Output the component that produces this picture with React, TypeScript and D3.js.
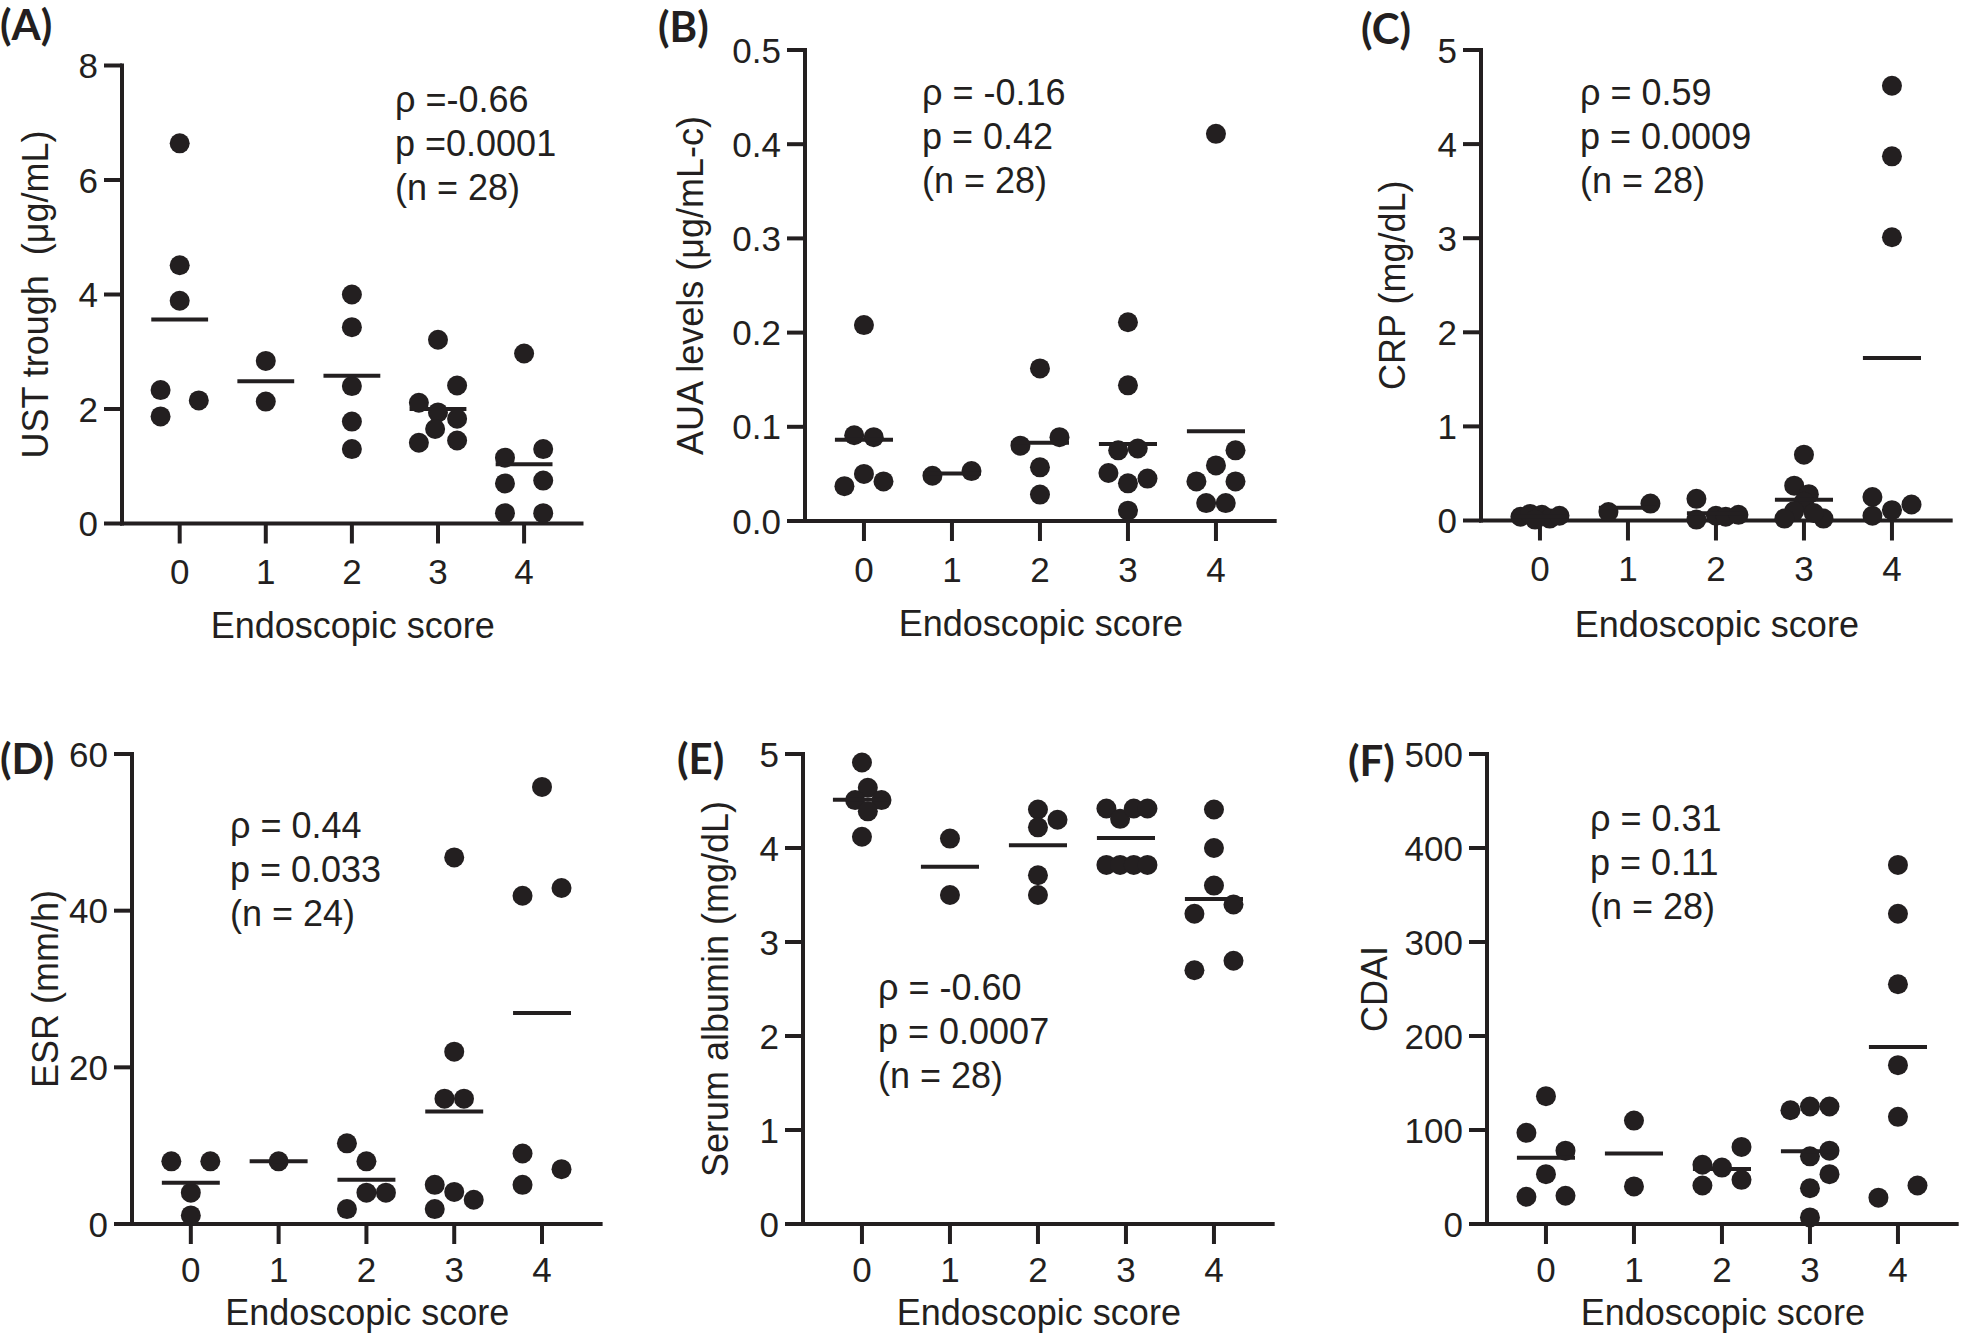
import React from "react";
import * as d3 from "d3";

// ---------- DATA ----------
const categories = [0, 1, 2, 3, 4];

const ustValues = [
  [6.64, 4.51, 3.89, 2.33, 1.87, 2.15],
  [2.84, 2.13],
  [4.0, 3.43, 2.4, 1.78, 1.3],
  [3.21, 2.11, 2.41, 1.94, 1.83, 1.65, 1.41, 1.45],
  [2.97, 1.15, 1.3, 0.7, 0.75, 0.18, 0.18],
];
const ustSpread = [
  [0, 0, 0, -2, -2, 2],
  [0, 0],
  [0, 0, 0, 0, 0],
  [0, -2, 2, 0, 2, -0.3, -2, 2],
  [0, -2, 2, -2, 2, -2, 2],
];

const auaValues = [
  [0.208, 0.091, 0.089, 0.05, 0.037, 0.042],
  [0.048, 0.053],
  [0.162, 0.08, 0.089, 0.057, 0.028],
  [0.211, 0.144, 0.075, 0.077, 0.051, 0.045, 0.04, 0.011],
  [0.411, 0.075, 0.059, 0.042, 0.042, 0.019, 0.019],
];
const auaSpread = [
  [0, -1, 1, 0, -2, 2],
  [-2, 2],
  [0, -2, 2, 0, 0],
  [0, 0, -1, 1, -2, 2, 0, 0],
  [0, 2, 0, -2, 2, -1, 1],
];

const crpValues = [
  [0.04, 0.07, 0.06, 0.02, 0.05, 0.01],
  [0.09, 0.18],
  [0.23, 0.01, 0.05, 0.04, 0.06],
  [0.7, 0.37, 0.28, 0.2, 0.1, 0.02, 0.02, 0.08],
  [4.62, 3.87, 3.01, 0.25, 0.05, 0.11, 0.17],
];
const crpSpread = [
  [-2, -1, 0.2, 1, 2, -0.5],
  [-2, 2.3],
  [-2, -2, 0, 1, 2.3],
  [0, -1, 0.5, 0, -1, -2, 2, 1],
  [0, 0, 0, -2, -2, 0, 2],
];

const esrValues = [
  [8, 8, 4, 1.1],
  [8],
  [10.3, 8, 4, 4, 1.9],
  [46.8, 22, 16, 16, 5, 4.1, 3.1, 1.9],
  [55.8, 42.9, 41.9, 9, 7, 5],
];
const esrSpread = [
  [-2, 2, 0, 0],
  [0],
  [-2, 0, 0, 2, -2],
  [0, 0, -1, 1, -2, 0, 2, -2],
  [0, 2, -2, -2, 2, -2],
];

const albValues = [
  [4.91, 4.64, 4.51, 4.51, 4.39, 4.12],
  [4.1, 3.5],
  [4.41, 4.3, 4.22, 3.71, 3.5],
  [4.42, 4.31, 4.42, 4.42, 3.82, 3.82, 3.82, 3.82],
  [4.41, 4.0, 3.6, 3.4, 3.3, 2.8, 2.7],
];
const albSpread = [
  [0, 0.6, -0.7, 2, 0.6, 0],
  [0, 0],
  [0, 2, 0, 0, 0],
  [-2, -0.6, 0.8, 2.2, -2, -0.6, 0.8, 2.2],
  [0, 0, 0, 2, -2, 2, -2],
];

const cdaiValues = [
  [136, 97, 78, 53, 29, 30],
  [110, 40],
  [82, 63, 60, 41, 47],
  [121, 125, 125, 72, 78, 53, 38, 7],
  [382, 330, 255, 169, 114, 28, 41],
];
const cdaiSpread = [
  [0, -2, 2, 0, -2, 2],
  [0, 0],
  [2, -2, 0, -2, 2],
  [-2, 0, 2, 0, 2, 2, 0, 0],
  [0, 0, 0, 0, 0, -2, 2],
];

const ustTicks = [0, 2, 4, 6, 8];
const auaTicks = [0, 0.1, 0.2, 0.3, 0.4, 0.5];
const crpTicks = [0, 1, 2, 3, 4, 5];
const esrTicks = [0, 20, 40, 60];
const albTicks = [0, 1, 2, 3, 4, 5];
const cdaiTicks = [0, 100, 200, 300, 400, 500];

const ustStats = ["ρ =-0.66", "p =0.0001", "(n = 28)"];
const auaStats = ["ρ = -0.16", "p = 0.42", "(n = 28)"];
const crpStats = ["ρ = 0.59", "p = 0.0009", "(n = 28)"];
const esrStats = ["ρ = 0.44", "p = 0.033", "(n = 24)"];
const albStats = ["ρ = -0.60", "p = 0.0007", "(n = 28)"];
const cdaiStats = ["ρ = 0.31", "p = 0.11", "(n = 28)"];

const xTitle = "Endoscopic score";

// ---------- LAYOUT ----------
const INK = "#231f20";
const FONT = "Liberation Sans, Arial, Helvetica, sans-serif";

type Panel = {
  label: string;
  labelX: number;
  labelY: number;
  yTitle: string;
  yTitleX: number;
  values: number[][];
  spread: number[][];
  ticks: number[];
  tickFmt: (v: number) => string;
  stats: string[];
  statsX: number;
  statsY: number;
  left: number;
  top: number;
  bottom: number;
  spacing: number;
  tickLabelDy: number;
  titleDy: number;
};

const panels: Panel[] = [
  { label: "(A)", labelX: 0, labelY: 24, yTitle: "UST trough  (μg/mL)", yTitleX: 35, values: ustValues, spread: ustSpread, ticks: ustTicks, tickFmt: d3.format("d"), stats: ustStats, statsX: 395, statsY: 99, left: 122, top: 65.5, bottom: 523.5, spacing: 86.1, tickLabelDy: 48, titleDy: 102 },
  { label: "(B)", labelX: 658, labelY: 26, yTitle: "AUA levels (μg/mL-c)", yTitleX: 690, values: auaValues, spread: auaSpread, ticks: auaTicks, tickFmt: d3.format(".1f"), stats: auaStats, statsX: 922, statsY: 92, left: 805, top: 50, bottom: 521, spacing: 88, tickLabelDy: 48, titleDy: 102 },
  { label: "(C)", labelX: 1361, labelY: 28, yTitle: "CRP (mg/dL)", yTitleX: 1392, values: crpValues, spread: crpSpread, ticks: crpTicks, tickFmt: d3.format("d"), stats: crpStats, statsX: 1580, statsY: 92, left: 1481, top: 50, bottom: 520.5, spacing: 88, tickLabelDy: 48, titleDy: 104 },
  { label: "(D)", labelX: 0, labelY: 758, yTitle: "ESR (mm/h)", yTitleX: 45, values: esrValues, spread: esrSpread, ticks: esrTicks, tickFmt: d3.format("d"), stats: esrStats, statsX: 230, statsY: 825, left: 132, top: 754, bottom: 1224, spacing: 87.8, tickLabelDy: 45, titleDy: 88 },
  { label: "(E)", labelX: 677, labelY: 758, yTitle: "Serum albumin (mg/dL)", yTitleX: 715, values: albValues, spread: albSpread, ticks: albTicks, tickFmt: d3.format("d"), stats: albStats, statsX: 878, statsY: 987, left: 803, top: 754, bottom: 1224, spacing: 88, tickLabelDy: 45, titleDy: 88 },
  { label: "(F)", labelX: 1348, labelY: 760, yTitle: "CDAI", yTitleX: 1374, values: cdaiValues, spread: cdaiSpread, ticks: cdaiTicks, tickFmt: d3.format("d"), stats: cdaiStats, statsX: 1590, statsY: 818, left: 1487, top: 754, bottom: 1224, spacing: 88, tickLabelDy: 45, titleDy: 88 },
];

const DOT_R = 10;
const SPREAD_UNIT = 0.111; // fraction of category spacing
const MEAN_HALF = 0.33; // half width of mean line in category units
const X_PAD_L = 0.67;
const X_PAD_R = 0.69;

function PanelView({ p }: { p: Panel }) {
  const width = (4 + X_PAD_L + X_PAD_R) * p.spacing;
  const x = d3
    .scaleLinear()
    .domain([-X_PAD_L, 4 + X_PAD_R])
    .range([p.left, p.left + width]);
  const yMax = p.ticks[p.ticks.length - 1];
  const y = d3.scaleLinear().domain([0, yMax]).range([p.bottom, p.top]);
  const axisEnd = x(4 + X_PAD_R);
  const midX = (p.left + axisEnd) / 2;
  const midY = (p.top + p.bottom) / 2;

  return (
    <g>
      {/* panel label */}
      <text x={p.labelX} y={p.labelY} fontFamily="Lato, 'Open Sans', sans-serif" fontWeight={700} fontSize={42} fill={INK} dominantBaseline="central">
        {p.label}
      </text>
      {/* y axis */}
      <line x1={p.left} x2={p.left} y1={p.top - 2} y2={p.bottom + 2} stroke={INK} strokeWidth={4} />
      {p.ticks.map((t) => (
        <g key={"yt" + t}>
          <line x1={p.left - 18} x2={p.left} y1={y(t)} y2={y(t)} stroke={INK} strokeWidth={4} />
          <text x={p.left - 24} y={y(t)} textAnchor="end" dominantBaseline="central" fontFamily={FONT} fontSize={35} fill={INK}>
            {p.tickFmt(t)}
          </text>
        </g>
      ))}
      {/* x axis */}
      <line x1={p.left - 2} x2={axisEnd} y1={p.bottom} y2={p.bottom} stroke={INK} strokeWidth={4} />
      {categories.map((c) => (
        <g key={"xt" + c}>
          <line x1={x(c)} x2={x(c)} y1={p.bottom} y2={p.bottom + 20} stroke={INK} strokeWidth={4} />
          <text x={x(c)} y={p.bottom + p.tickLabelDy} textAnchor="middle" dominantBaseline="central" fontFamily={FONT} fontSize={35} fill={INK}>
            {c}
          </text>
        </g>
      ))}
      <text x={midX} y={p.bottom + p.titleDy} textAnchor="middle" dominantBaseline="central" fontFamily={FONT} fontSize={36} fill={INK}>
        {xTitle}
      </text>
      {/* y title */}
      <text
        transform={`translate(${p.yTitleX},${midY}) rotate(-90)`}
        textAnchor="middle"
        dominantBaseline="central"
        fontFamily={FONT}
        fontSize={36}
        fill={INK}
        style={{ whiteSpace: "pre" }}
      >
        {p.yTitle}
      </text>
      {/* stats */}
      {p.stats.map((s, i) => (
        <text key={"st" + i} x={p.statsX} y={p.statsY + i * 44} dominantBaseline="central" fontFamily={FONT} fontSize={36} fill={INK}>
          {s}
        </text>
      ))}
      {/* points */}
      {p.values.map((vals, ci) =>
        vals.map((v, j) => (
          <circle
            key={`pt${ci}-${j}`}
            cx={x(categories[ci] + p.spread[ci][j] * SPREAD_UNIT)}
            cy={y(v)}
            r={DOT_R}
            fill={INK}
          />
        ))
      )}
      {/* mean lines */}
      {p.values.map((vals, ci) => {
        const m = d3.mean(vals) as number;
        return (
          <line
            key={"mean" + ci}
            x1={x(categories[ci] - MEAN_HALF)}
            x2={x(categories[ci] + MEAN_HALF)}
            y1={y(m)}
            y2={y(m)}
            stroke={INK}
            strokeWidth={4}
          />
        );
      })}
    </g>
  );
}

export default function App() {
  return (
    <svg
      width={1968}
      height={1336}
      viewBox="0 0 1968 1336"
      style={{ position: "absolute", left: 0, top: 0, background: "#fff", display: "block" }}
    >
      <rect x={0} y={0} width={1968} height={1336} fill="#fff" />
      {panels.map((p) => (
        <PanelView key={p.label} p={p} />
      ))}
    </svg>
  );
}
